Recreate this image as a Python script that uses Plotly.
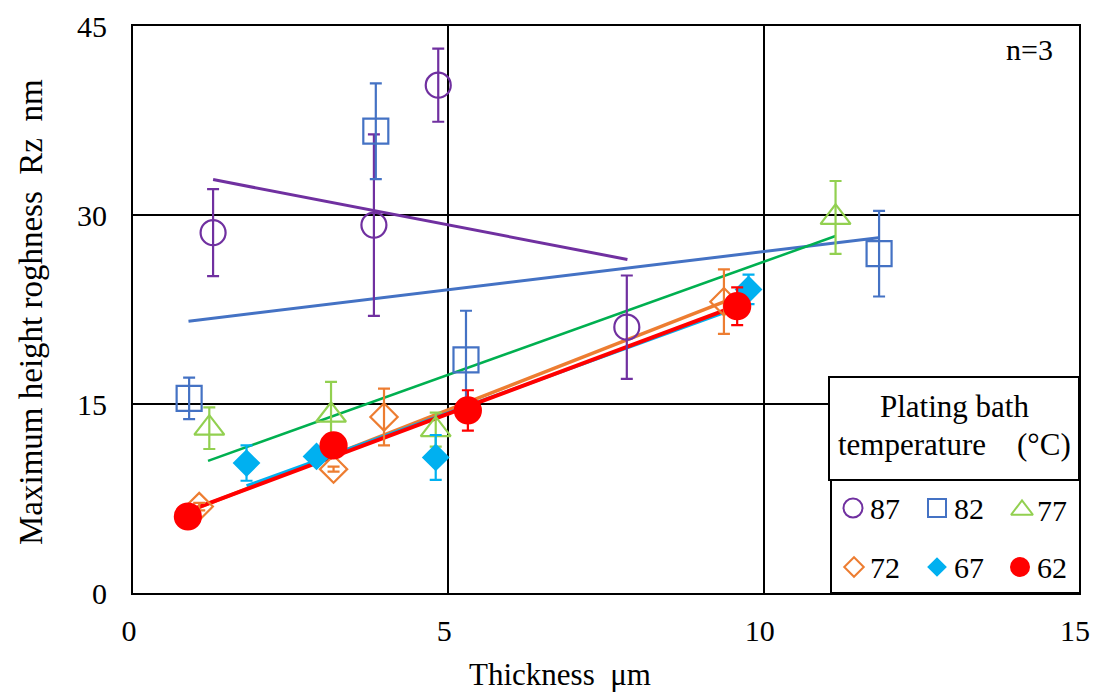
import plotly.graph_objects as go

# ---------------- data ----------------
temps = ["87", "82", "77", "72", "67", "62"]

x_87 = [1.27, 3.82, 4.84, 7.83]
y_87 = [28.6, 29.2, 40.3, 21.1]
e_87 = [3.45, 7.2, 2.9, 4.1]

x_82 = [0.89, 3.85, 5.28, 11.83]
y_82 = [15.45, 36.65, 18.5, 26.93]
e_82 = [1.65, 3.8, 3.9, 3.4]

x_77 = [1.21, 3.14, 4.80, 11.14]
y_77 = [13.08, 14.11, 12.96, 29.81]
e_77 = [1.65, 2.64, 1.35, 2.89]

x_72 = [1.05, 3.18, 3.98, 9.37]
y_72 = [6.86, 9.83, 13.97, 23.12]
e_72 = [0.3, 0.2, 2.25, 2.56]

x_67 = [1.80, 2.91, 4.80, 9.76]
y_67 = [10.31, 10.84, 10.76, 24.09]
e_67 = [1.4, 0.4, 1.78, 1.17]

x_62 = [0.87, 3.18, 5.31, 9.58]
y_62 = [6.07, 11.71, 14.49, 22.76]
e_62 = [0.3, 0.3, 1.6, 1.5]

# trend lines (start / end points)
tx_87, ty_87 = [1.27, 7.84], [32.81, 26.47]
tx_82, ty_82 = [0.88, 11.82], [21.57, 28.2]
tx_77, ty_77 = [1.19, 11.14], [10.49, 28.33]
tx_72, ty_72 = [1.05, 9.37], [6.8, 23.1]
tx_67, ty_67 = [1.80, 9.74], [8.51, 22.9]
tx_62, ty_62 = [0.87, 9.58], [6.5, 22.8]

x_ticks = [0, 5, 10, 15]
y_ticks = [0, 15, 30, 45]

# ---------------- styles ----------------
FONT = "Liberation Serif, Times New Roman, serif"
C = {"87": "#7030A0", "82": "#4472C4", "77": "#92D050",
     "72": "#ED7D31", "67": "#00B0F0", "62": "#FF0000"}
TREND_C = {"87": "#7030A0", "82": "#4472C4", "77": "#00B050",
           "72": "#ED7D31", "67": "#00B0F0", "62": "#FF0000"}
TREND_W = {"87": 3, "82": 3, "77": 2.5, "72": 3.5, "67": 3, "62": 4}
SYM = {"87": "circle-open", "82": "square-open", "77": "triangle-up-open",
       "72": "diamond-open", "67": "diamond", "62": "circle"}
SIZE = {"87": 25, "82": 25, "77": 26, "72": 21, "67": 19, "62": 26}
LSIZE = {"87": 19, "82": 18, "77": 19, "72": 15, "67": 13, "62": 18}

series = {
    "87": (x_87, y_87, e_87, tx_87, ty_87),
    "82": (x_82, y_82, e_82, tx_82, ty_82),
    "77": (x_77, y_77, e_77, tx_77, ty_77),
    "72": (x_72, y_72, e_72, tx_72, ty_72),
    "67": (x_67, y_67, e_67, tx_67, ty_67),
    "62": (x_62, y_62, e_62, tx_62, ty_62),
}

fig = go.Figure()

# trend lines first
for t in temps:
    xs, ys, es, txs, tys = series[t]
    fig.add_trace(go.Scatter(x=txs, y=tys, mode="lines",
                             line=dict(color=TREND_C[t], width=TREND_W[t]),
                             showlegend=False, hoverinfo="skip"))

# markers with error bars
for t in temps:
    xs, ys, es, txs, tys = series[t]
    fig.add_trace(go.Scatter(
        x=xs, y=ys, mode="markers", name=t, showlegend=False,
        marker=dict(symbol=SYM[t], size=SIZE[t], color=C[t],
                    line=dict(color=C[t], width=2.2)),
        error_y=dict(type="data", array=es, visible=True,
                     color=C[t], thickness=2.2, width=6),
        cliponaxis=False))

# ---------------- pixel -> paper helpers for the custom legend ----------------
L, R, T, B = 133, 1079, 26, 593
def fx(px):
    return (px - L) / (R - L)
def fy(py):
    return (B - py) / (B - T)

# legend markers on an invisible overlay axis (0..1 = plot area)
leg_pos = {"87": (853, 508), "82": (937, 508), "77": (1022, 510),
           "72": (854, 567), "67": (937, 567), "62": (1020, 567)}
for t in temps:
    px, py = leg_pos[t]
    fig.add_trace(go.Scatter(
        x=[fx(px)], y=[fy(py)], xaxis="x2", yaxis="y2", mode="markers",
        marker=dict(symbol=SYM[t], size=LSIZE[t], color=C[t],
                    line=dict(color=C[t], width=2)),
        showlegend=False, hoverinfo="skip", cliponaxis=False))

shapes = [
    dict(type="rect", xref="paper", yref="paper",
         x0=fx(829), x1=fx(1079), y0=fy(480), y1=fy(377),
         fillcolor="white", line=dict(color="black", width=2), layer="above"),
    dict(type="rect", xref="paper", yref="paper",
         x0=fx(831), x1=fx(1080), y0=fy(593), y1=fy(480),
         fillcolor="rgba(0,0,0,0)", line=dict(color="black", width=2), layer="above"),
]

NB = "\u00a0"
annotations = [
    dict(text="Plating bath", x=fx(954), y=fy(406), xref="paper", yref="paper",
         showarrow=False, font=dict(family=FONT, size=31, color="black"),
         xanchor="center", yanchor="middle"),
    dict(text="temperature" + NB * 4 + "(°C)", x=fx(954), y=fy(444),
         xref="paper", yref="paper", showarrow=False,
         font=dict(family=FONT, size=31, color="black"),
         xanchor="center", yanchor="middle"),
    dict(text="n=3", x=fx(1029), y=fy(49), xref="paper", yref="paper",
         showarrow=False, font=dict(family=FONT, size=30, color="black"),
         xanchor="center", yanchor="middle"),
    dict(text="Thickness" + NB * 2 + "μm", x=fx(560), y=fy(675),
         xref="paper", yref="paper", showarrow=False,
         font=dict(family=FONT, size=31, color="black"),
         xanchor="center", yanchor="middle"),
    dict(text="Maximum height roghness" + NB * 2 + "Rz" + NB * 2 + "nm",
         x=fx(31), y=fy(312), xref="paper", yref="paper", showarrow=False,
         textangle=-90, font=dict(family=FONT, size=33, color="black"),
         xanchor="center", yanchor="middle"),
]
leg_text_x = {"87": 885, "82": 969, "77": 1052, "72": 885, "67": 969, "62": 1052}
for t in temps:
    px, py = leg_pos[t]
    annotations.append(dict(text=t, x=fx(leg_text_x[t]), y=fy(py), xref="paper",
                            yref="paper", showarrow=False,
                            font=dict(family=FONT, size=30, color="black"),
                            xanchor="center", yanchor="middle"))

axis_common = dict(showgrid=True, gridcolor="black", gridwidth=1.5,
                   showline=True, linecolor="black", linewidth=2, mirror=True,
                   zeroline=False, ticks="",
                   tickfont=dict(family=FONT, size=30, color="black"))

fig.update_layout(
    width=1096, height=695,
    margin=dict(l=L, r=1096 - R, t=T, b=695 - B, autoexpand=False),
    paper_bgcolor="white", plot_bgcolor="white",
    xaxis=dict(range=[0, 15], tickvals=x_ticks, ticklabelstandoff=10,
               ticklabelshift=-4, **axis_common),
    yaxis=dict(range=[0, 45], tickvals=y_ticks, ticklabelstandoff=18,
               **axis_common),
    xaxis2=dict(overlaying="x", range=[0, 1], visible=False, anchor="y2"),
    yaxis2=dict(overlaying="y", range=[0, 1], visible=False, anchor="x2"),
    shapes=shapes, annotations=annotations,
    showlegend=False,
)

fig.write_html("out.html", config={"displayModeBar": False},
               post_script="document.body.style.margin='0';document.body.style.overflow='hidden';")
